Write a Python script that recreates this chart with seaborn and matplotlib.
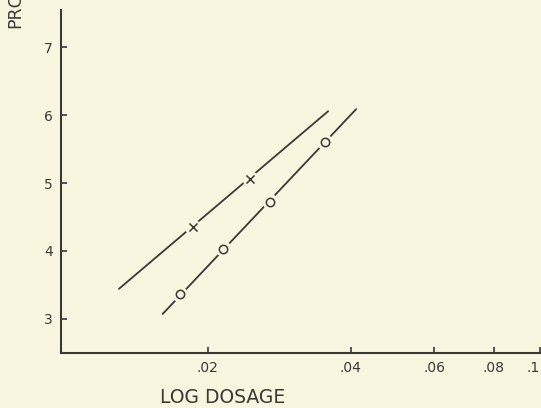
import numpy as np
import matplotlib
matplotlib.use("Agg")
import matplotlib.pyplot as plt
import seaborn as sns

# data
dose_x = [0.01861, 0.02461]
probit_x = [4.35, 5.06]
dose_o = [0.01747, 0.02160, 0.02711, 0.03534]
probit_o = [3.36, 4.03, 4.72, 5.60]

# fitted lines (end points)
fit_x_dose = [0.01302, 0.03586]
fit_x_probit = [3.44, 6.06]
fit_o_dose = [0.01609, 0.04106]
fit_o_probit = [3.07, 6.09]

xticks = [0.02, 0.04, 0.06, 0.08, 0.1]
xticklabels = [".02", ".04", ".06", ".08", ".1"]
yticks = [3, 4, 5, 6, 7]

paper = "#f9f6df"
ink = "#3b3838"

sns.set_style("ticks")
plt.rcParams['font.family'] = ['DejaVu Sans']

fig = plt.figure(figsize=(5.41, 4.08), dpi=100, facecolor=paper)
ax = fig.add_axes([0.113, 0.135, 0.885, 0.84])
ax.set_facecolor(paper)

sns.lineplot(x=fit_x_dose, y=fit_x_probit, ax=ax, color=ink, lw=1.3, zorder=2)
sns.lineplot(x=fit_o_dose, y=fit_o_probit, ax=ax, color=ink, lw=1.3, zorder=2)

# halo in paper colour so the lines break at each point
sns.scatterplot(x=dose_x + dose_o, y=probit_x + probit_o, ax=ax, s=130,
                color=paper, edgecolor="none", zorder=3)
sns.scatterplot(x=dose_o, y=probit_o, ax=ax, marker="o", s=36,
                facecolor=paper, edgecolor=ink, linewidth=1.1, zorder=4)
sns.scatterplot(x=dose_x, y=probit_x, ax=ax, marker="x", s=34,
                color=ink, linewidth=1.1, zorder=4)

ax.set_xscale("log")
ax.set_xlim(0.00984, 0.0993)
ax.set_ylim(2.495, 7.55)
ax.set_xticks(xticks)
ax.set_xticklabels(xticklabels)
ax.xaxis.set_minor_locator(matplotlib.ticker.NullLocator())
ax.set_yticks(yticks)
ax.set_xlabel("")
ax.set_ylabel("")

sns.despine(ax=ax)
for side in ["left", "bottom"]:
    ax.spines[side].set_color(ink)
    ax.spines[side].set_linewidth(1.5)
ax.tick_params(direction="in", length=4, width=1.2, colors=ink,
               labelsize=10, pad=6)
ax.get_xticklabels()[-1].set_ha("right")

fig.text(0.412, 0.025, "LOG DOSAGE", ha="center", va="center",
         fontsize=13.5, color=ink)
fig.text(0.028, 1 - 28 / 408, "PROBIT", rotation=90, ha="center",
         va="bottom", fontsize=12.5, color=ink)

fig.savefig("out.png", dpi=100, facecolor=paper)
